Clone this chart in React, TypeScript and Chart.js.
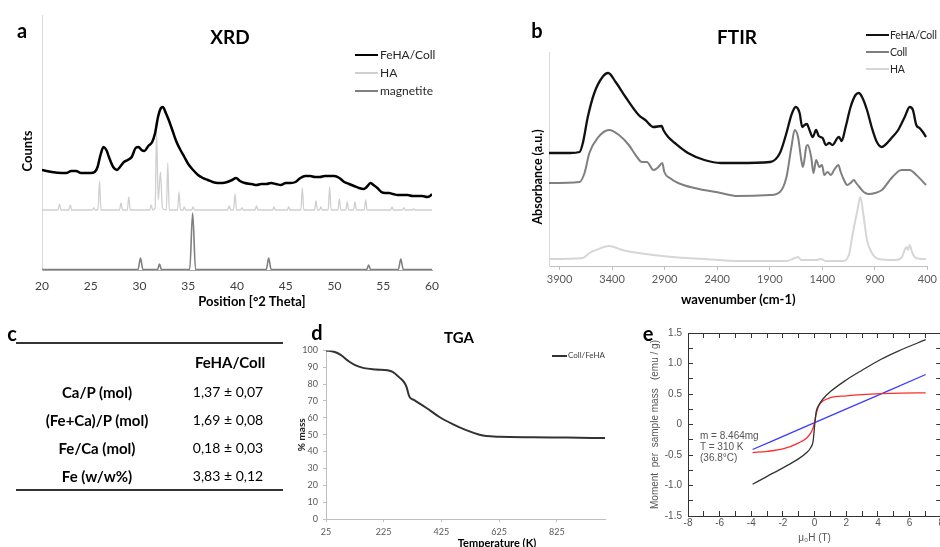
import React, { useEffect, useRef } from "react";
import { Chart, registerables } from "chart.js";

Chart.register(...registerables);

const FONT = "Lato, 'Open Sans', sans-serif";
const ARIAL = "'Liberation Sans', Arial, sans-serif";

// ---------------- XRD (panel a) ----------------
const xrdTicks = [20, 25, 30, 35, 40, 45, 50, 55, 60];
const xrdFeHAX = [20, 21, 22, 22.5, 23, 23.5, 24, 24.5, 25, 25.4, 25.7, 26.0, 26.3, 26.6, 26.9, 27.3, 27.7, 28.0, 28.4, 28.8, 29.2, 29.6, 29.9, 30.2, 30.5, 30.9, 31.3, 31.6, 31.9, 32.2, 32.4, 32.7, 33.0, 33.4, 33.8, 34.2, 34.6, 35.0, 35.5, 36, 36.5, 37, 37.5, 38, 38.5, 39, 39.5, 39.9, 40.3, 40.8, 41.5, 42, 42.5, 43, 43.5, 44, 44.5, 45, 45.5, 46, 46.5, 47, 47.5, 48, 48.5, 49, 49.5, 50, 50.5, 51, 51.5, 52, 52.5, 53, 53.3, 53.7, 54.0, 54.4, 54.8, 55.2, 55.6, 56, 56.5, 57, 57.5, 58, 58.5, 59, 59.5, 59.8, 60];
const xrdFeHAY = [100, 98, 97, 97, 99, 99, 97, 97, 97, 98, 103, 115, 123, 120, 112, 103, 100, 103, 108, 110, 113, 122, 123, 120, 119, 124, 128, 137, 153, 162, 163, 157, 150, 139, 128, 120, 113, 106, 100, 95, 92, 90, 88, 87, 87, 88, 90, 92, 89, 87, 86, 85, 86, 86, 87, 86, 85, 87, 87, 88, 92, 94, 94, 93, 93, 94, 94, 94, 92, 88, 86, 84, 82, 81, 83, 87, 85, 82, 78, 77, 77, 76, 75, 75, 75, 74, 74, 74, 73, 74, 76];
const xrdHAX = [20, 21.65, 21.8, 21.95, 22.75, 22.9, 23.05, 25.15, 25.3, 25.45, 25.75, 25.9, 26.05, 27.95, 28.1, 28.25, 28.75, 28.9, 29.05, 31.05, 31.2, 31.35, 31.6, 31.75, 31.92, 32.15, 32.35, 32.75, 32.9, 33.05, 33.9, 34.05, 34.2, 34.45, 34.6, 34.75, 35.35, 35.5, 35.65, 39.05, 39.2, 39.35, 39.65, 39.8, 39.95, 40.35, 40.5, 40.65, 41.85, 42.0, 42.15, 43.65, 43.8, 43.95, 45.15, 45.3, 45.45, 46.55, 46.7, 46.85, 47.95, 48.1, 48.25, 48.45, 48.6, 48.75, 49.35, 49.5, 49.65, 50.35, 50.5, 50.65, 51.15, 51.3, 51.45, 51.95, 52.1, 52.25, 53.05, 53.2, 53.35, 55.75, 55.9, 56.05, 56.95, 57.1, 57.25, 57.95, 58.1, 58.25, 60];
const xrdHAY = [60, 60, 66, 60, 60, 65, 60, 60, 62, 60, 60, 89, 60, 60, 67, 60, 60, 73, 60, 60, 65, 60, 62, 138, 70, 98, 62, 60, 107, 60, 60, 78, 60, 60, 63, 60, 60, 63, 60, 60, 64, 60, 60, 76, 60, 60, 62, 60, 60, 64, 60, 60, 63, 60, 60, 63, 60, 60, 82, 60, 60, 69, 60, 60, 63, 60, 60, 83, 60, 60, 71, 60, 60, 68, 60, 60, 68, 60, 60, 70, 60, 60, 63, 60, 60, 62, 60, 60, 61, 60, 60];
const xrdMagX = [20, 29.85, 30.1, 30.35, 31.85, 32.05, 32.25, 35.15, 35.45, 35.75, 43.0, 43.25, 43.5, 53.3, 53.5, 53.7, 56.55, 56.8, 57.05, 60];
const xrdMagY = [0.5, 0.5, 12, 0.5, 0.5, 6, 0.5, 0.5, 57, 0.5, 0.5, 12, 0.5, 0.5, 5, 0.5, 0.5, 11, 0.5, 0.5];

// ---------------- FTIR (panel b) ----------------
const ftirTicks = [3900, 3400, 2900, 2400, 1900, 1400, 900, 400];
const ftirFeX = [4000, 3800, 3709, 3678, 3631, 3569, 3491, 3437, 3366, 3272, 3147, 3084, 3006, 2928, 2912, 2866, 2803, 2678, 2522, 2366, 2209, 1897, 1803, 1741, 1694, 1653, 1616, 1591, 1569, 1547, 1522, 1491, 1459, 1434, 1397, 1366, 1334, 1303, 1256, 1241, 1216, 1178, 1131, 1084, 1053, 1022, 975, 928, 881, 834, 803, 741, 678, 616, 569, 538, 506, 475, 444, 413];
const ftirFeY = [113, 113, 114, 123, 149, 173, 189, 193, 184, 169, 151, 146, 139, 140, 136, 129, 123, 113, 106, 103, 103, 104, 113, 133, 151, 159, 153, 139, 141, 142, 136, 129, 136, 130, 128, 121, 123, 121, 128, 129, 125, 139, 159, 171, 173, 169, 156, 138, 124, 119, 121, 128, 136, 149, 159, 156, 141, 138, 134, 129];
const ftirCollX = [4000, 3709, 3662, 3616, 3538, 3428, 3334, 3241, 3163, 3116, 3069, 3006, 2959, 2922, 2903, 2850, 2772, 2616, 2366, 2209, 1897, 1803, 1741, 1694, 1663, 1631, 1600, 1584, 1553, 1538, 1506, 1484, 1459, 1428, 1403, 1381, 1350, 1319, 1288, 1247, 1225, 1194, 1163, 1131, 1100, 1078, 1047, 1006, 959, 897, 834, 741, 647, 569, 506, 413];
const ftirCollY = [83, 84, 93, 113, 128, 136, 131, 121, 109, 104, 104, 96, 99, 103, 94, 88, 83, 78, 73, 70, 71, 74, 89, 119, 136, 129, 106, 99, 119, 121, 109, 93, 106, 99, 101, 91, 94, 91, 96, 101, 94, 86, 81, 83, 86, 83, 79, 74, 72, 73, 76, 88, 96, 96, 91, 81];
const ftirHAX = [4000, 3678, 3616, 3553, 3428, 3303, 3147, 2834, 2522, 2209, 1741, 1663, 1631, 1600, 1459, 1413, 1366, 1209, 1147, 1116, 1091, 1069, 1038, 1006, 975, 928, 866, 709, 647, 616, 600, 584, 569, 547, 522, 459, 413];
const ftirHAY = [7, 8, 13, 16, 20, 16, 13, 9, 7, 5, 5, 8, 9, 6, 6, 7, 5, 5, 11, 29, 43, 54, 69, 49, 26, 13, 7, 6, 8, 16, 19, 16, 21, 14, 9, 7, 7];

// ---------------- Table (panel c) ----------------
const tableHeader = "FeHA/Coll";
const tableRows = ["Ca/P (mol)", "(Fe+Ca)/P (mol)", "Fe/Ca (mol)", "Fe (w/w%)"];
const tableValues = ["1,37 ± 0,07", "1,69 ± 0,08", "0,18 ± 0,03", "3,83 ± 0,12"];

// ---------------- TGA (panel d) ----------------
const tgaTicks = [25, 225, 425, 625, 825];
const tgaTemp = [25, 53, 76, 105, 128, 157, 198, 238, 256, 279, 296, 304, 314, 331, 372, 418, 464, 511, 557, 580, 627, 743, 859, 992];
const tgaMass = [100, 99.2, 97.3, 93.4, 91.1, 89.5, 88.7, 88.2, 87.2, 84, 81, 78.4, 72.6, 70.5, 66, 60.5, 56.3, 52.7, 50, 49.2, 48.8, 48.5, 48.3, 48];

// ---------------- Magnetisation (panel e) ----------------
const magBlackH = [-3.92, -3, -2, -1, -0.5, -0.25, -0.1, 0, 0.1, 0.25, 0.5, 1, 2, 3, 4.2, 5.25, 7.02];
const magBlackM = [-0.98, -0.85, -0.71, -0.56, -0.46, -0.38, -0.28, -0.02, 0.21, 0.31, 0.41, 0.54, 0.73, 0.89, 1.07, 1.2, 1.39];
const magRedH = [-3.92, -3, -2, -1, -0.5, -0.25, -0.1, 0, 0.1, 0.25, 0.5, 1, 2, 3, 4.2, 5.5, 7.02];
const magRedM = [-0.46, -0.44, -0.4, -0.3, -0.22, -0.14, -0.06, 0.04, 0.17, 0.3, 0.38, 0.44, 0.47, 0.49, 0.505, 0.515, 0.52];
const magBlueH = [-3.92, 0, 7.02];
const magBlueM = [-0.41, 0.03, 0.82];
const magNotes = ["m = 8.464mg", "T = 310 K", "(36.8°C)"];

function pts(xs: number[], ys: number[]) {
  return xs.map((x, i) => ({ x, y: ys[i] }));
}

function lineDs(label: string, xs: number[], ys: number[], color: string, width: number) {
  return {
    label,
    data: pts(xs, ys),
    borderColor: color,
    backgroundColor: color,
    borderWidth: width,
    pointRadius: 0,
    fill: false,
    tension: 0.4,
    cubicInterpolationMode: "monotone",
  };
}

const common: any = {
  animation: false,
  responsive: false,
  maintainAspectRatio: false,
  events: [],
  plugins: { legend: { display: false }, tooltip: { enabled: false }, title: { display: false } },
  elements: { point: { radius: 0 } },
};

const fixedTicks = (vals: number[]) => (s: any) => {
  s.ticks = vals.map((v) => ({ value: v }));
};

function xrdConfig(): any {
  return {
    type: "line",
    data: {
      datasets: [
        lineDs("FeHA/Coll", xrdFeHAX, xrdFeHAY, "#000000", 2.5),
        lineDs("HA", xrdHAX, xrdHAY, "#cfcfcf", 1.3),
        lineDs("magnetite", xrdMagX, xrdMagY, "#7f7f7f", 1.6),
      ],
    },
    options: {
      ...common,
      layout: { padding: { left: 0, right: 38, top: 15, bottom: 0 } },
      scales: {
        x: {
          type: "linear",
          min: 20,
          max: 60,
          afterBuildTicks: fixedTicks(xrdTicks),
          afterFit: (s: any) => { s.height = 42; },
          ticks: { font: { family: FONT, size: 12 }, color: "#404040", padding: 9, maxRotation: 0, autoSkip: false, callback: (v: any) => String(v) },
          grid: { display: false, drawTicks: false },
          border: { display: true, color: "#a6a6a6", width: 1 },
        },
        y: {
          type: "linear",
          min: 0,
          max: 255,
          afterFit: (s: any) => { s.width = 42; },
          ticks: { display: false },
          grid: { display: false, drawTicks: false },
          border: { display: true, color: "#d9d9d9", width: 1 },
        },
      },
    },
  };
}

function ftirConfig(): any {
  return {
    type: "line",
    data: {
      datasets: [
        lineDs("FeHA/Coll", ftirFeX, ftirFeY, "#111111", 2.3),
        lineDs("Coll", ftirCollX, ftirCollY, "#7f7f7f", 2),
        lineDs("HA", ftirHAX, ftirHAY, "#d6d6d6", 2),
      ],
    },
    options: {
      ...common,
      layout: { padding: { left: 0, right: 7, top: 52, bottom: 0 } },
      scales: {
        x: {
          type: "linear",
          reverse: true,
          min: 400,
          max: 4000,
          afterBuildTicks: fixedTicks(ftirTicks),
          afterFit: (s: any) => { s.height = 46; },
          ticks: { font: { family: FONT, size: 11 }, color: "#595959", padding: 3, maxRotation: 0, autoSkip: false, callback: (v: any) => String(v) },
          grid: { display: true, drawOnChartArea: false, drawTicks: true, tickLength: 4, color: "#bfbfbf" },
          border: { display: true, color: "#bfbfbf", width: 1 },
          title: { display: true, text: "wavenumber (cm-1)", font: { family: FONT, size: 13, weight: "bold" }, color: "#000", padding: { top: 0, bottom: 4 } },
        },
        y: {
          type: "linear",
          min: 0,
          max: 214,
          afterFit: (s: any) => { s.width = 79; },
          ticks: { display: false },
          grid: { display: false, drawTicks: false },
          border: { display: true, color: "#d9d9d9", width: 1 },
        },
      },
    },
  };
}

function tgaConfig(): any {
  return {
    type: "line",
    data: { datasets: [lineDs("Coll/FeHA", tgaTemp, tgaMass, "#333333", 2)] },
    options: {
      ...common,
      layout: { padding: { left: 0, right: 11, top: 7, bottom: 0 } },
      scales: {
        x: {
          type: "linear",
          min: 25,
          max: 992,
          afterBuildTicks: fixedTicks(tgaTicks),
          afterFit: (s: any) => { s.height = 36; },
          ticks: { font: { family: FONT, size: 9 }, color: "#595959", padding: 5, maxRotation: 0, autoSkip: false, callback: (v: any) => String(v) },
          grid: { display: true, drawOnChartArea: false, drawTicks: true, tickLength: 3, color: "#bfbfbf" },
          border: { display: true, color: "#bfbfbf", width: 1 },
        },
        y: {
          type: "linear",
          min: 0,
          max: 100,
          afterFit: (s: any) => { s.width = 30; },
          ticks: { stepSize: 10, font: { family: FONT, size: 9 }, color: "#595959", padding: 5, callback: (v: any) => String(v) },
          grid: { display: true, drawOnChartArea: false, drawTicks: true, tickLength: 3, color: "#bfbfbf" },
          border: { display: true, color: "#bfbfbf", width: 1 },
          title: { display: true, text: "% mass", font: { family: FONT, size: 10, weight: "bold" }, color: "#222", padding: { top: 0, bottom: 0 } },
        },
      },
    },
  };
}

function magConfig(): any {
  const tickFont = { family: ARIAL, size: 10 };
  const frame = { display: true, drawOnChartArea: false, drawTicks: true, tickLength: -5, color: "#333333", lineWidth: 1 };
  const half = (v: number) => Math.abs(v * 2 - Math.round(v * 2)) < 1e-9;
  return {
    type: "line",
    data: {
      datasets: [
        lineDs("black", magBlackH, magBlackM, "#333333", 1.3),
        lineDs("red", magRedH, magRedM, "#ff2b2b", 1.3),
        lineDs("blue", magBlueH, magBlueM, "#3b3bff", 1.3),
      ],
    },
    options: {
      ...common,
      layout: { padding: { left: 0, right: 7, top: 10, bottom: 0 } },
      scales: {
        x: {
          type: "linear",
          position: "bottom",
          min: -8,
          max: 8,
          afterFit: (s: any) => { s.height = 35; },
          ticks: { stepSize: 1, font: tickFont, color: "#555", padding: 6, maxRotation: 0, autoSkip: false, callback: (v: any) => (Math.round(v) % 2 === 0 ? String(v) : "") },
          grid: frame,
          border: { display: true, color: "#333333", width: 1 },
          title: { display: true, text: "μ₀H (T)", font: tickFont, color: "#555", padding: { top: 0, bottom: 7 } },
        },
        x2: {
          type: "linear",
          position: "top",
          min: -8,
          max: 8,
          afterFit: (s: any) => { s.height = 0; },
          ticks: { stepSize: 1, display: false },
          grid: frame,
          border: { display: true, color: "#333333", width: 1 },
        },
        y: {
          type: "linear",
          position: "left",
          min: -1.5,
          max: 1.5,
          afterFit: (s: any) => { s.width = 48; },
          ticks: { stepSize: 0.25, font: tickFont, color: "#555", padding: 11, autoSkip: false, callback: (v: any) => (half(v) ? (v === 0 ? "0" : Number(v).toFixed(1)) : "") },
          grid: frame,
          border: { display: true, color: "#333333", width: 1 },
          title: { display: true, text: "Moment  per  sample mass   (emu / g)", font: tickFont, color: "#555", padding: { top: 9, bottom: 0 } },
        },
        y2: {
          type: "linear",
          position: "right",
          min: -1.5,
          max: 1.5,
          afterFit: (s: any) => { s.width = 0; },
          ticks: { stepSize: 0.25, display: false },
          grid: frame,
          border: { display: true, color: "#333333", width: 1 },
        },
      },
    },
  };
}

function ChartBox({ left, top, width, height, make }: any) {
  const ref = useRef<HTMLCanvasElement | null>(null);
  useEffect(() => {
    const chart = new Chart(ref.current as HTMLCanvasElement, make());
    return () => chart.destroy();
  }, []);
  return (
    <canvas
      ref={ref}
      width={width}
      height={height}
      style={{ position: "absolute", left, top, width, height }}
    />
  );
}

function Txt({ x, y, text, size, bold, font, color, align, rotate, spacing }: any) {
  const tx = align === "left" ? "0" : "-50%";
  return (
    <div
      style={{
        position: "absolute",
        left: x,
        top: y,
        transform: `translate(${tx},-50%)${rotate ? " rotate(-90deg)" : ""}`,
        fontFamily: font || FONT,
        fontSize: size,
        fontWeight: bold ? 700 : 400,
        color: color || "#000",
        whiteSpace: "pre",
        lineHeight: 1.2,
        letterSpacing: spacing || 0,
      }}
    >
      {text}
    </div>
  );
}

function Swatch({ x1, x2, y, color, w }: any) {
  return (
    <div style={{ position: "absolute", left: x1, top: y - w / 2, width: x2 - x1, height: w, background: color }} />
  );
}

export default function App() {
  const xrdLegend = [
    { t: "FeHA/Coll", c: "#000", w: 2.5 },
    { t: "HA", c: "#cfcfcf", w: 1.5 },
    { t: "magnetite", c: "#7f7f7f", w: 1.6 },
  ];
  const ftirLegend = [
    { t: "FeHA/Coll", c: "#111", w: 2.5 },
    { t: "Coll", c: "#7f7f7f", w: 2 },
    { t: "HA", c: "#d6d6d6", w: 2 },
  ];
  const rowY = [392, 420, 448, 476];
  return (
    <div style={{ position: "fixed", left: 0, top: 0, width: 940, height: 547, overflow: "hidden", background: "#fff" }}>
      <ChartBox left={0} top={0} width={470} height={312} make={xrdConfig} />
      <ChartBox left={470} top={0} width={470} height={312} make={ftirConfig} />
      <ChartBox left={296} top={340} width={320} height={215} make={tgaConfig} />
      <ChartBox left={640} top={316} width={310} height={235} make={magConfig} />

      {/* panel a */}
      <Txt x={22} y={30} text="a" size={20} bold />
      <Txt x={230} y={37} text="XRD" size={19} bold />
      <Txt x={28} y={151} text="Counts" size={13} bold rotate />
      <Txt x={252} y={302} text="Position [°2 Theta]" size={13} bold />
      {xrdLegend.map((l, i) => (
        <React.Fragment key={l.t}>
          <Swatch x1={355} x2={378} y={55 + i * 18} color={l.c} w={l.w} />
          <Txt x={380} y={55 + i * 18} text={l.t} size={12} align="left" color="#262626" />
        </React.Fragment>
      ))}

      {/* panel b */}
      <Txt x={537} y={30} text="b" size={20} bold />
      <Txt x={737} y={37} text="FTIR" size={19} bold />
      <Txt x={537} y={177} text="Absorbance (a.u.)" size={12.5} bold rotate />
      {ftirLegend.map((l, i) => (
        <React.Fragment key={l.t}>
          <Swatch x1={866} x2={889} y={35 + i * 17} color={l.c} w={l.w} />
          <Txt x={890} y={35 + i * 17} text={l.t} size={10.5} align="left" color="#262626" spacing={-0.2} />
        </React.Fragment>
      ))}

      {/* panel c */}
      <Txt x={12} y={333} text="c" size={20} bold />
      <div style={{ position: "absolute", left: 16, top: 342, width: 267, height: 1.5, background: "#333" }} />
      <div style={{ position: "absolute", left: 16, top: 489, width: 267, height: 1.5, background: "#333" }} />
      <Txt x={230} y={362} text={tableHeader} size={15} bold />
      {tableRows.map((r, i) => (
        <React.Fragment key={r}>
          <Txt x={97} y={rowY[i]} text={r} size={15} bold />
          <Txt x={228} y={rowY[i]} text={tableValues[i]} size={14} />
        </React.Fragment>
      ))}

      {/* panel d */}
      <Txt x={317} y={332} text="d" size={20} bold />
      <Txt x={459} y={337} text="TGA" size={15} bold />
      <Swatch x1={552} x2={567} y={356} color="#333333" w={2} />
      <Txt x={568} y={356} text="Coll/FeHA" size={8} align="left" color="#404040" />
      <Txt x={497} y={543} text="Temperature (K)" size={11} bold />

      {/* panel e */}
      <Txt x={648} y={333} text="e" size={20} bold />
      {magNotes.map((n, i) => (
        <Txt key={n} x={700} y={436 + i * 11} text={n} size={10} font={ARIAL} color="#555" align="left" />
      ))}
    </div>
  );
}
